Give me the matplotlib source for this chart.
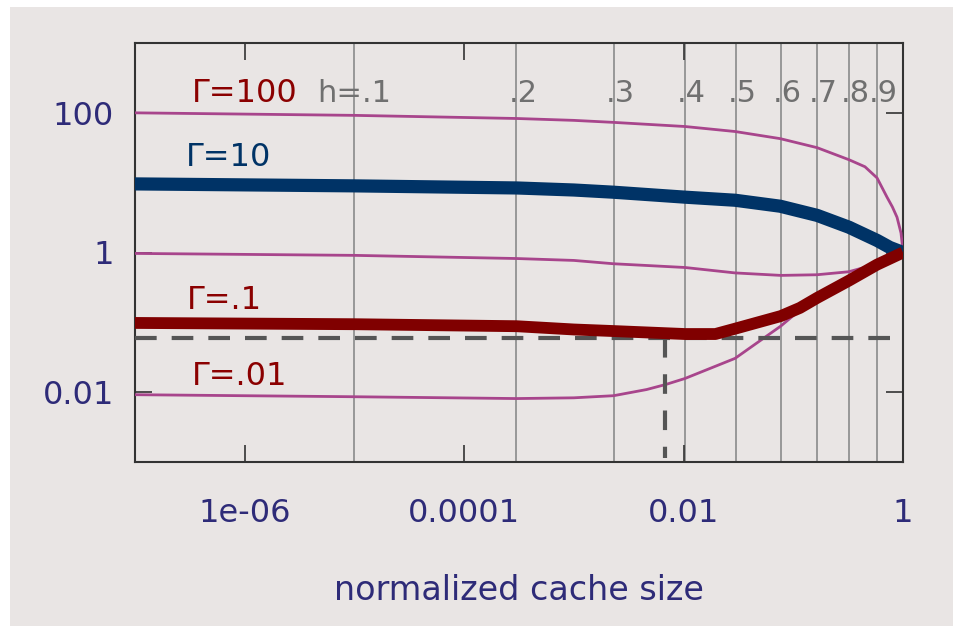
import matplotlib
matplotlib.use('Agg')
import matplotlib.pyplot as plt
from matplotlib.patches import Rectangle

# 곡선 데이터
x_g100 = [1e-7, 1e-5, 3e-4, 1e-3, 2.3e-3, 0.0103, 0.0295, 0.076, 0.165, 0.322, 0.45, 0.58, 0.715, 0.80, 0.882, 0.959, 0.99, 1.0]
y_g100 = [100, 92, 83, 78, 73, 63.7, 54, 42.7, 31.7, 21.3, 16.9, 11.7, 6.2, 4.5, 3.2, 1.9, 1.2, 1.0]

x_g10 = [1e-7, 1e-5, 3e-4, 1e-3, 2.3e-3, 0.0103, 0.0295, 0.076, 0.165, 0.322, 0.58, 0.76, 1.0]
y_g10 = [9.6, 9.0, 8.4, 7.85, 7.3, 6.2, 5.6, 4.6, 3.4, 2.3, 1.49, 1.18, 1.0]

x_g1 = [1e-7, 1e-5, 3e-4, 1e-3, 2.3e-3, 0.0103, 0.0295, 0.077, 0.164, 0.32, 0.41, 0.58, 1.0]
y_g1 = [0.97, 0.91, 0.82, 0.77, 0.69, 0.61, 0.51, 0.47, 0.48, 0.53, 0.59, 0.67, 1.0]

x_g01 = [1e-7, 1e-5, 3e-4, 1e-3, 2.3e-3, 0.0103, 0.0195, 0.0294, 0.077, 0.115, 0.165, 0.32, 0.58, 1.0]
y_g01 = [0.098, 0.094, 0.088, 0.079, 0.075, 0.068, 0.068, 0.081, 0.123, 0.161, 0.224, 0.394, 0.67, 1.0]

x_g001 = [1e-7, 1e-5, 3e-4, 1e-3, 2.3e-3, 0.0046, 0.0069, 0.0103, 0.0295, 0.077, 0.115, 0.165, 0.32, 0.58, 1.0]
y_g001 = [0.0092, 0.0086, 0.0081, 0.0083, 0.0089, 0.0109, 0.0129, 0.0157, 0.0305, 0.0885, 0.150, 0.217, 0.394, 0.67, 1.0]

# 히트율 h 에 해당하는 캐시 크기
h_labels = ['h=.1', '.2', '.3', '.4', '.5', '.6', '.7', '.8', '.9']
h_sizes = [1e-5, 3e-4, 2.3e-3, 0.0102, 0.030, 0.077, 0.163, 0.32, 0.58]

# 점선 기준값
dash_y = 0.059
dash_x = 0.0068

xticks = [1e-6, 1e-4, 1e-2, 1]
xticklabels = ['1e-06', '0.0001', '0.01', '1']
yticks = [1e-2, 1, 1e2]
yticklabels = ['0.01', '1', '100']

bg = '#e9e5e4'
navy_txt = '#2e2b78'
pink = '#a8458c'
red = '#800000'
navy = '#003366'

plt.rcParams['font.family'] = ['DejaVu Sans']

fig = plt.figure(figsize=(9.54, 6.26), dpi=100, facecolor='white')
fig.patches.append(Rectangle((10 / 954, 0), 1, 1 - 7 / 626, transform=fig.transFigure,
                             facecolor=bg, edgecolor='none', zorder=-10))
ax = fig.add_axes([135 / 954, 164 / 626, 768 / 954, 419 / 626])
ax.set_facecolor(bg)
ax.set_xscale('log')
ax.set_yscale('log')
ax.set_xlim(1e-7, 1)
ax.set_ylim(1e-3, 1e3)

# h 수직선
for hx in h_sizes:
    ax.axvline(hx, color='#8a8a8a', lw=1.2, zorder=1)
for i, (hx, lab) in enumerate(zip(h_sizes, h_labels)):
    if i == 0:
        ax.annotate(lab, xy=(hx, 190), xytext=(0, 0), textcoords='offset pixels',
                    ha='center', va='center', fontsize=22, color='#707070')
    else:
        ax.annotate(lab, xy=(hx, 190), xytext=(-8, 0), textcoords='offset pixels',
                    ha='left', va='center', fontsize=22, color='#707070')

# 곡선
ax.plot(x_g100, y_g100, color=pink, lw=2, zorder=3)
ax.plot(x_g1, y_g1, color=pink, lw=2, zorder=3)
ax.plot(x_g001, y_g001, color=pink, lw=2, zorder=3)
ax.plot(x_g10, y_g10, color=navy, lw=9.5, zorder=4, solid_capstyle='butt', solid_joinstyle='round')
ax.plot(x_g01, y_g01, color=red, lw=8.5, zorder=5, solid_capstyle='butt', solid_joinstyle='round')

# 점선
ax.axhline(dash_y, color='#555555', lw=3, dashes=(5.2, 3.6), zorder=4)
ax.plot([dash_x, dash_x], [dash_y, 1.15e-3], color='#555555', lw=3, dashes=(4.7, 4.0), zorder=4)

# 감마 레이블
ax.text(1e-6, 190, 'Γ=100', color='#8b0000', fontsize=23, ha='center', va='center')
ax.text(7.2e-7, 23, 'Γ=10', color=navy, fontsize=23, ha='center', va='center')
ax.text(6.6e-7, 0.205, 'Γ=.1', color='#8b0000', fontsize=23, ha='center', va='center')
ax.text(9e-7, 0.0165, 'Γ=.01', color='#8b0000', fontsize=23, ha='center', va='center')

# 축 설정
ax.set_xticks(xticks)
ax.set_xticklabels(xticklabels)
ax.set_yticks(yticks)
ax.set_yticklabels(yticklabels)
ax.minorticks_off()
ax.tick_params(direction='in', length=12, width=1.2, color='#333333',
               top=True, right=True, labelsize=23, labelcolor=navy_txt)
ax.tick_params(axis='x', pad=26)
ax.tick_params(axis='y', pad=15)
for s in ax.spines.values():
    s.set_color('#333333')
    s.set_linewidth(1.5)
ax.set_xlabel('normalized cache size', fontsize=24, color=navy_txt, labelpad=32)

fig.savefig('out.png', dpi=100, facecolor=fig.get_facecolor())
